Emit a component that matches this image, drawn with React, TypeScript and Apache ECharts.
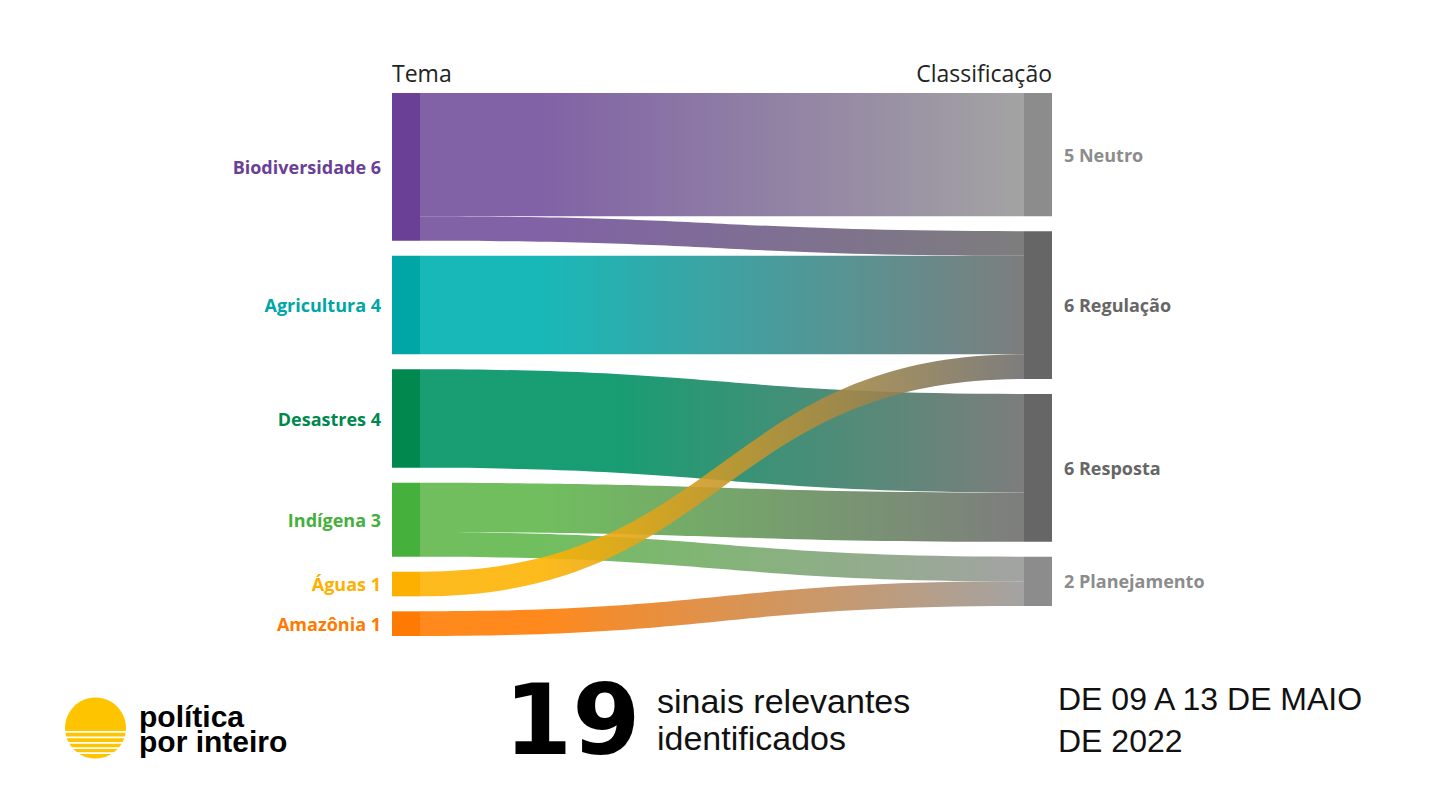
import React, { useEffect, useRef } from "react";
import * as echarts from "echarts";

const leftNodes = ["Biodiversidade", "Agricultura", "Desastres", "Indígena", "Águas", "Amazônia"];
const leftColors = ["#6a4096", "#00a6a6", "#00884f", "#45b03c", "#fdb000", "#ff7a00"];
const leftLinkColors = ["#73519c", "#00b0b0", "#009263", "#61b74d", "#fdb304", "#ff7c04"];
const rightNodes = ["Neutro", "Regulação", "Resposta", "Planejamento"];
const rightColors = ["#8c8c8c", "#666666", "#666666", "#8c8c8c"];
const rightLinkColors = ["#999999", "#6f6f6f", "#6f6f6f", "#999999"];

const linkSources = ["Biodiversidade", "Biodiversidade", "Agricultura", "Desastres", "Indígena", "Indígena", "Amazônia", "Águas"];
const linkTargets = ["Neutro", "Regulação", "Regulação", "Resposta", "Resposta", "Planejamento", "Planejamento", "Regulação"];
const linkValues = [5, 1, 4, 4, 2, 1, 1, 1];

const headings = ["Tema", "Classificação"];
const totalSignals = "19";
const signalLines = ["sinais relevantes", "identificados"];
const dateLines = ["DE 09 A 13 DE MAIO", "DE 2022"];
const logoLines = ["política", "por inteiro"];

const LABEL_FONT = "'Open Sans', 'Noto Sans', sans-serif";
const ARIAL = "'Liberation Sans', Arial, sans-serif";

export default function App() {
  const ref = useRef<HTMLDivElement | null>(null);

  useEffect(() => {
    if (!ref.current) return;
    const chart = echarts.init(ref.current, undefined, { renderer: "svg" });

    const nodes = [
      ...leftNodes.map((n, i) => ({
        name: n,
        itemStyle: { color: leftColors[i] },
        label: {
          position: "left",
          distance: 11,
          formatter: "{b} {c}",
          color: leftColors[i],
        },
      })),
      ...rightNodes.map((n, i) => ({
        name: n,
        itemStyle: { color: rightColors[i] },
        label: {
          position: "right",
          distance: 12,
          formatter: "{c} {b}",
          color: rightColors[i],
        },
      })),
    ];

    const links = linkSources.map((s, i) => {
      const si = leftNodes.indexOf(s);
      const ti = rightNodes.indexOf(linkTargets[i]);
      const hold = s === "Desastres" ? 0.33 : 0.2;
      return {
        source: s,
        target: linkTargets[i],
        value: linkValues[i],
        lineStyle: {
          color: {
            type: "linear",
            x: 0,
            y: 0,
            x2: 1,
            y2: 0,
            colorStops: [
              { offset: 0, color: leftLinkColors[si] },
              { offset: hold, color: leftLinkColors[si] },
              { offset: 1, color: rightLinkColors[ti] },
            ],
          },
        },
      };
    });

    const stripeYs = [731, 736.5, 742, 747.2, 752.2];

    chart.setOption({
      animation: false,
      backgroundColor: "#ffffff",
      series: [
        {
          type: "sankey",
          left: 392,
          right: 388,
          top: 93,
          bottom: 174,
          nodeWidth: 28,
          nodeGap: 15,
          layoutIterations: 0,
          draggable: false,
          emphasis: { disabled: true },
          data: nodes,
          links: links,
          itemStyle: { borderWidth: 0 },
          lineStyle: { opacity: 0.9, curveness: 0.5 },
          label: {
            fontFamily: LABEL_FONT,
            fontWeight: "bold",
            fontSize: 18,
          },
        },
      ],
      graphic: [
        {
          type: "text",
          x: 392,
          y: 82 - 0.388 * 23,
          style: {
            text: headings[0],
            font: "23px " + LABEL_FONT,
            fill: "#222222",
            align: "left",
            verticalAlign: "middle",
          },
        },
        {
          type: "text",
          x: 1052,
          y: 82 - 0.388 * 23,
          style: {
            text: headings[1],
            font: "23px " + LABEL_FONT,
            fill: "#222222",
            align: "right",
            verticalAlign: "middle",
          },
        },
        // logo
        {
          type: "circle",
          shape: { cx: 95.5, cy: 728, r: 30.5 },
          style: { fill: "#ffc400" },
        },
        ...stripeYs.map((y) => ({
          type: "rect",
          shape: { x: 60, y: y, width: 72, height: 1.8 },
          style: { fill: "#ffffff" },
        })),
        {
          type: "text",
          x: 139,
          y: 727 - 0.347 * 30,
          style: {
            text: logoLines[0],
            font: "bold 30px " + ARIAL,
            fill: "#000000",
            align: "left",
            verticalAlign: "middle",
          },
        },
        {
          type: "text",
          x: 139,
          y: 752 - 0.347 * 30,
          style: {
            text: logoLines[1],
            font: "bold 30px " + ARIAL,
            fill: "#000000",
            align: "left",
            verticalAlign: "middle",
          },
        },
        {
          type: "text",
          x: 504,
          y: 754 - 0.346 * 98,
          style: {
            text: totalSignals,
            font: "bold 98px 'DejaVu Sans', sans-serif",
            fill: "#000000",
            align: "left",
            verticalAlign: "middle",
          },
        },
        {
          type: "text",
          x: 657,
          y: 713 - 0.347 * 34 - 18.5,
          style: {
            text: signalLines.join("\n"),
            font: "34px " + ARIAL,
            lineHeight: 37,
            fill: "#111111",
            align: "left",
            verticalAlign: "top",
          },
        },
        {
          type: "text",
          x: 1058,
          y: 710 - 0.347 * 32 - 21,
          style: {
            text: dateLines.join("\n"),
            font: "32px " + ARIAL,
            lineHeight: 42,
            fill: "#111111",
            align: "left",
            verticalAlign: "top",
          },
        },
      ],
    });

    return () => chart.dispose();
  }, []);

  return (
    <div
      ref={ref}
      style={{ position: "fixed", left: 0, top: 0, width: 1440, height: 810, background: "#fff" }}
    />
  );
}
